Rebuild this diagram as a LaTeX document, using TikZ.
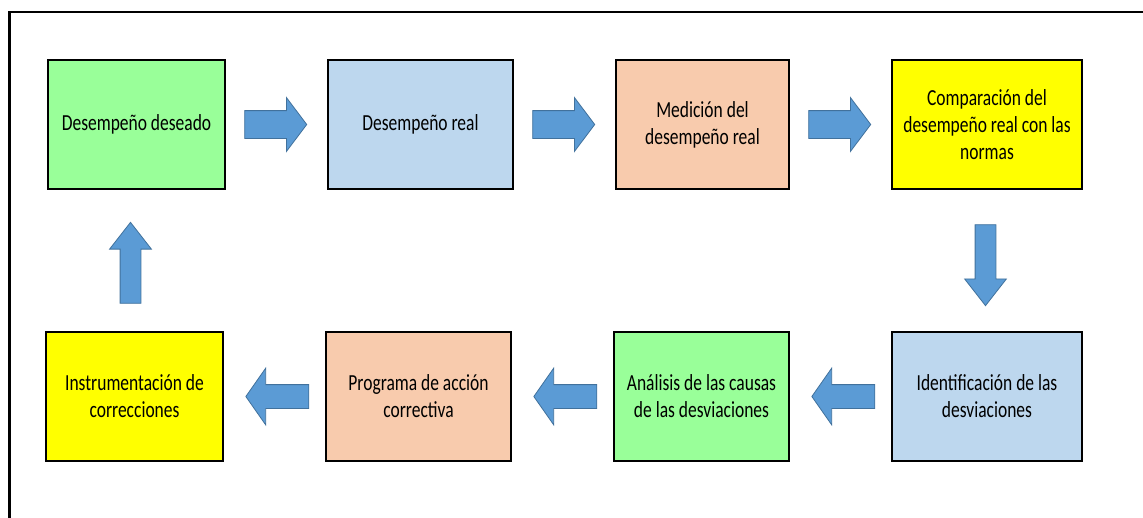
\documentclass[tikz,border=0pt]{standalone}
\usepackage{fontspec}
\setmainfont{Carlito}[FakeStretch=0.76]
\usepackage{tikz}
\usetikzlibrary{shapes.arrows, positioning, calc}
\definecolor{verde}{HTML}{99FF99}
\definecolor{celeste}{HTML}{BDD7EE}
\definecolor{salmon}{HTML}{F8CBAD}
\definecolor{amarillo}{HTML}{FFFF00}
\definecolor{azul}{HTML}{5B9BD5}
\definecolor{bordeazul}{HTML}{41719C}
\tikzstyle{caja} = [rectangle, draw=black, line width=1.5pt, minimum height=129pt, outer sep=0pt, inner sep=0pt, align=center, font=\fontsize{23}{27}\selectfont]
\tikzstyle{flecha} = [single arrow, draw=bordeazul, fill=azul, line width=0.8pt, inner sep=0pt, outer sep=0pt, text depth=0pt, single arrow head indent=0pt]
\tikzstyle{flechah} = [flecha, minimum height=62pt, text height=27pt, single arrow head extend=13pt, single arrow tip angle=106]
\tikzstyle{flechai} = [flecha, rotate=180, minimum height=63pt, text height=23pt, single arrow head extend=16.5pt, single arrow tip angle=110]
\tikzstyle{flechav} = [flecha, minimum height=81pt, text height=20pt, single arrow head extend=10.5pt, single arrow tip angle=76]

\begin{document}
\begin{tikzpicture}[x=1pt, y=-1pt, node distance=103pt]
\useasboundingbox (0,0) rectangle (1143,517);
\draw[line width=2.5pt] (9.5,12) rectangle (1170,540);

% fila superior
\node (deseado) [caja, fill=verde, minimum width=177pt] at (136.5,124.5) {Desempeño deseado};
\node (real) [caja, fill=celeste, minimum width=185pt, right=of deseado] {Desempeño real};
\node (medicion) [caja, fill=salmon, minimum width=173pt, right=of real] {Medición del\\desempeño real};
\node (comparacion) [caja, fill=amarillo, minimum width=190pt, right=of medicion] {Comparación del\\desempeño real con las\\normas};

% fila inferior
\node (identificacion) [caja, fill=celeste, minimum width=190pt, below=143pt of comparacion] {Identificación de las\\desviaciones};
\node (analisis) [caja, fill=verde, minimum width=175pt, left=of identificacion] {Análisis de las causas\\de las desviaciones};
\node (programa) [caja, fill=salmon, minimum width=185pt, left=of analisis] {Programa de acción\\correctiva};
\node (instrumentacion) [caja, fill=amarillo, minimum width=177pt, left=of programa] {Instrumentación de\\correcciones};

% flechas
\node (f1) [flechah] at ($(deseado.east)!0.5!(real.west)+(-6,0)$) {};
\node (f2) [flechah] at ($(real.east)!0.5!(medicion.west)+(-6,0)$) {};
\node (f3) [flechah] at ($(medicion.east)!0.5!(comparacion.west)+(-6,0)$) {};
\node (f4) [flechav, rotate=-90] at ($(comparacion.south)!0.5!(identificacion.north)+(-1.5,-2)$) {};
\node (f5) [flechai] at ($(identificacion.west)!0.5!(analisis.east)+(7,0)$) {};
\node (f6) [flechai] at ($(analisis.west)!0.5!(programa.east)+(7,0)$) {};
\node (f7) [flechai] at ($(programa.west)!0.5!(instrumentacion.east)+(7,0)$) {};
\node (f8) [flechav, rotate=90] at ($(instrumentacion.north)!0.5!(deseado.south)+(-5,9)$) {};

\end{tikzpicture}
\end{document}
